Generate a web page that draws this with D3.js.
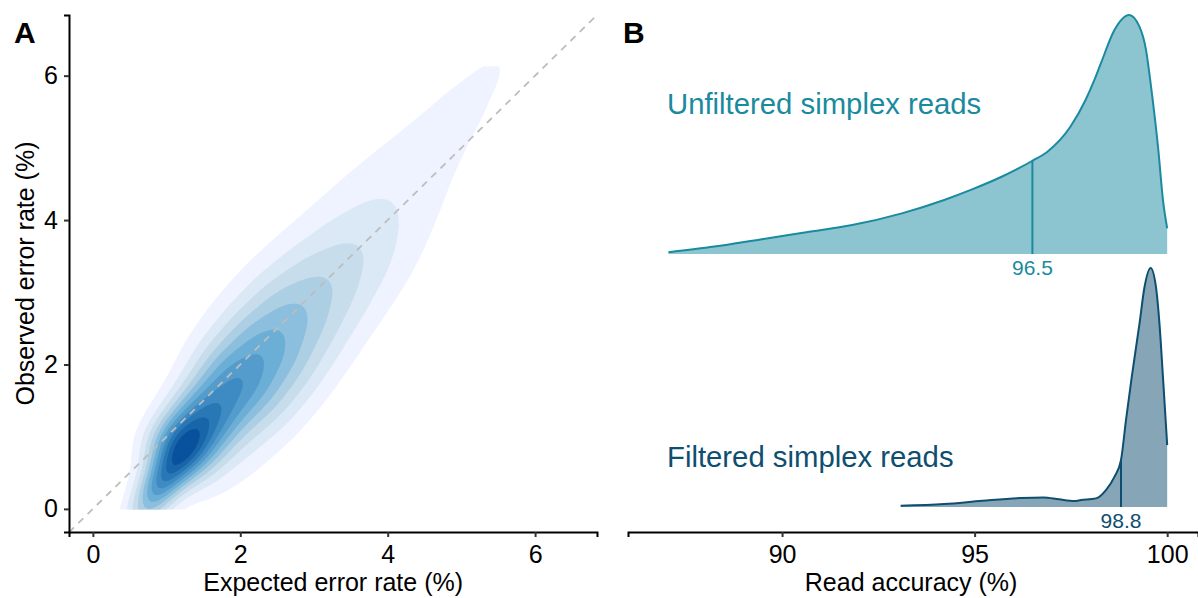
<!DOCTYPE html>
<html>
<head>
<meta charset="utf-8">
<script src="https://cdn.jsdelivr.net/npm/d3@7"></script>
<style>
  body { margin: 0; background: #fff; }
  text { font-family: "Liberation Sans", Arial, Helvetica, sans-serif; }
</style>
</head>
<body>
<div id="chart"></div>
<script>

///////////////////////////////////////////////////////////////////////////
//////////////////////////////// Data /////////////////////////////////////
///////////////////////////////////////////////////////////////////////////

//Panel A - density kernels
//(centre expected %, centre observed %, peak height, sd along ridge, sd across ridge)
//first along the ridge of the cloud, the last ones on its lower right shoulder
var kernelExpected = [0.700, 0.930, 1.220, 1.589, 1.959, 2.328, 2.698, 3.106, 3.516, 3.885, 4.255, 4.624, 4.993, 5.363, 5.732,
	1.732, 2.225, 2.717, 3.210, 3.702, 4.195];
var kernelObserved = [-0.100, 0.370, 0.860, 1.333, 1.806, 2.279, 2.751, 3.193, 3.635, 4.108, 4.581, 5.054, 5.527, 5.999, 6.472,
	0.460, 1.090, 1.721, 2.351, 2.982, 3.612];
var kernelHeight = [0.197, 0.48, 0.77, 0.518, 0.455, 0.368, 0.294, 0.223, 0.170, 0.124, 0.094, 0.078, 0.070, 0.062, 0.055,
	0.05, 0.075, 0.075, 0.05, 0.025, 0.015];
var kernelSdAlong = [0.35, 0.35, 0.35, 0.35, 0.35, 0.35, 0.35, 0.35, 0.35, 0.35, 0.35, 0.35, 0.35, 0.35, 0.35,
	0.6, 0.6, 0.6, 0.6, 0.6, 0.6];
var kernelSdAcross = [0.18, 0.19, 0.31, 0.36, 0.44, 0.48, 0.50, 0.52, 0.54, 0.56, 0.58, 0.56, 0.53, 0.49, 0.44,
	0.38, 0.38, 0.38, 0.38, 0.38, 0.38];
//Range covered by the reads
var readsExpectedRange = [0.38, 5.55];
var readsObservedRange = [0, 6.12];
var axisTicksA = [0, 2, 4, 6];

//Panel B - read accuracy densities (relative height)
var unfilteredAccuracy = [87.05, 88.24, 89.44, 90.63, 91.82, 93.11, 94.21, 94.90, 95.70, 96.49,
	96.89, 97.49, 97.88, 98.11, 98.28, 98.63, 99.01, 99.28, 99.45, 99.57, 99.77, 99.89, 100];
var unfilteredDensity = [0.007, 0.031, 0.061, 0.091, 0.121, 0.170, 0.226, 0.268, 0.323, 0.389,
	0.428, 0.533, 0.644, 0.728, 0.798, 0.937, 1.0, 0.951, 0.854, 0.714, 0.435, 0.226, 0.107];
var filteredAccuracy = [93.08, 94.21, 95.20, 96.19, 96.79, 97.19, 97.59, 97.76, 98.15, 98.41,
	98.63, 98.80, 98.93, 99.08, 99.28, 99.41, 99.57, 99.71, 99.80, 99.89, 100];
var filteredDensity = [0.005, 0.0125, 0.026, 0.0375, 0.040, 0.032, 0.025, 0.029, 0.036, 0.071,
	0.126, 0.196, 0.363, 0.544, 0.766, 0.919, 1.0, 0.919, 0.766, 0.544, 0.259];
var groups = ["Filtered simplex reads", "Unfiltered simplex reads"];
var medians = [98.8, 96.5];
var axisTicksB = [90, 95, 100];

///////////////////////////////////////////////////////////////////////////
//////////////////////////// Set up the SVG ///////////////////////////////
///////////////////////////////////////////////////////////////////////////

var width = 1198,
	height = 598;

var svg = d3.select("#chart").append("svg")
	.attr("width", width)
	.attr("height", height)
	.style("display", "block");

var axisY = 532;

///////////////////////////////////////////////////////////////////////////
//////////////////////////////// Panel A //////////////////////////////////
///////////////////////////////////////////////////////////////////////////

var xA = d3.scaleLinear().domain([-0.324, 6.84]).range([69, 597]);
var yA = d3.scaleLinear().domain([-0.32, 6.84]).range([axisY, 15]);

//Evaluate the kernels on a grid over the range of the reads
var step = 0.02,
	nx = Math.round((readsExpectedRange[1] - readsExpectedRange[0]) / step) + 1,
	ny = Math.round((readsObservedRange[1] - readsObservedRange[0]) / step) + 1;

var ux = 0.6157, uy = 0.7881; //direction of the ridge
var values = new Float64Array(nx * ny);
for (var j = 0; j < ny; j++) {
	var gy = readsObservedRange[0] + j * step;
	for (var i = 0; i < nx; i++) {
		var gx = readsExpectedRange[0] + i * step;
		var v = 0;
		for (var k = 0; k < kernelExpected.length; k++) {
			var dx = gx - kernelExpected[k],
				dy = gy - kernelObserved[k];
			var a = dx * ux + dy * uy,
				c = -dx * uy + dy * ux;
			v += kernelHeight[k] * Math.exp(-0.5 * (a * a / (kernelSdAlong[k] * kernelSdAlong[k]) + c * c / (kernelSdAcross[k] * kernelSdAcross[k])));
		}//for k
		values[j * nx + i] = v;
	}//for i
}//for j

var maxDensity = d3.max(values);
var nBins = 12;
var thresholds = d3.range(1, nBins).map(function(i) { return maxDensity * i / nBins; });

var blues = d3.scaleLinear()
	.domain(d3.range(5).map(function(i) { return i / 4; }))
	.range(["#EFF3FF", "#BDD7E7", "#6BAED6", "#3182BD", "#08519C"])
	.interpolate(d3.interpolateRgb);

var contours = d3.contours().size([nx, ny]).thresholds(thresholds)(values);

var gridPath = d3.geoPath(d3.geoTransform({
	point: function(px, py) {
		this.stream.point(
			xA(readsExpectedRange[0] + (px - 0.5) * step),
			yA(readsObservedRange[0] + (py - 0.5) * step)
		);
	}
}));

var panelA = svg.append("g").attr("class", "panel-a");

panelA.append("g").attr("class", "density")
	.selectAll("path")
	.data(contours)
	.enter().append("path")
	.attr("d", gridPath)
	.style("fill", function(d, i) { return blues(i / (contours.length - 1)); })
	.style("stroke", "none");

//Identity line
panelA.append("line")
	.attr("x1", xA(-0.324)).attr("y1", yA(-0.324))
	.attr("x2", xA(6.84)).attr("y2", yA(6.84))
	.style("stroke", "#bdbdbd")
	.style("stroke-width", 1.8)
	.style("stroke-dasharray", "7,6");

//Axes
panelA.append("g")
	.attr("transform", "translate(0," + axisY + ")")
	.call(d3.axisBottom(xA).tickValues(axisTicksA).tickSize(5).tickPadding(8));

panelA.append("g")
	.attr("transform", "translate(69,0)")
	.call(d3.axisLeft(yA).tickValues(axisTicksA).tickSize(5).tickPadding(6));

panelA.append("text")
	.attr("x", xA(3.26)).attr("y", 591)
	.attr("text-anchor", "middle")
	.style("font-size", "25px")
	.text("Expected error rate (%)");

panelA.append("text")
	.attr("transform", "translate(34," + yA(3.26) + ") rotate(-90)")
	.attr("text-anchor", "middle")
	.style("font-size", "25px")
	.text("Observed error rate (%)");

svg.append("text")
	.attr("x", 14).attr("y", 43)
	.style("font-size", "30px")
	.style("font-weight", "bold")
	.text("A");

///////////////////////////////////////////////////////////////////////////
//////////////////////////////// Panel B //////////////////////////////////
///////////////////////////////////////////////////////////////////////////

var xB = d3.scaleLinear().domain([86, 100.8]).range([628, 1198]);
//Ridge baselines - group 1 at the bottom, group 2 above
var yB = d3.scaleLinear().domain([1, 2]).range([507, 254]);
var ridgeScale = 0.945;

var colors = ["#0e4e70", "#1a8a9f"];

var ridges = [
	{ name: groups[0], acc: filteredAccuracy, dens: filteredDensity, median: medians[0], color: colors[0], pos: 1 },
	{ name: groups[1], acc: unfilteredAccuracy, dens: unfilteredDensity, median: medians[1], color: colors[1], pos: 2 }
];

var panelB = svg.append("g").attr("class", "panel-b");

var area = d3.area()
	.curve(d3.curveMonotoneX)
	.x(function(d) { return xB(d[0]); })
	.y0(function(d) { return yB(d[2]); })
	.y1(function(d) { return yB(d[2] + d[1] * ridgeScale); });

var ridgeWrapper = panelB.selectAll(".ridge")
	.data(ridges)
	.enter().append("g")
	.attr("class", "ridge");

ridgeWrapper.each(function(r) {
	var g = d3.select(this);
	var pts = r.acc.map(function(a, i) { return [a, r.dens[i], r.pos]; });

	g.append("path")
		.datum(pts)
		.attr("d", area)
		.style("fill", r.color)
		.style("fill-opacity", 0.5);

	g.append("path")
		.datum(pts)
		.attr("d", area.lineY1())
		.style("fill", "none")
		.style("stroke", r.color)
		.style("stroke-width", 2);

	//Median line up to the curve
	var hMed = d3.scaleLinear().domain(r.acc).range(r.dens)(r.median);
	g.append("line")
		.attr("x1", xB(r.median)).attr("x2", xB(r.median))
		.attr("y1", yB(r.pos)).attr("y2", yB(r.pos + hMed * ridgeScale))
		.style("stroke", r.color)
		.style("stroke-width", 2);

	g.append("text")
		.attr("x", xB(r.median)).attr("y", yB(r.pos) + 21)
		.attr("text-anchor", "middle")
		.style("font-size", "21px")
		.style("fill", r.color)
		.text(r.median.toFixed(1));

	g.append("text")
		.attr("x", 667).attr("y", r.pos === 2 ? 114 : 467)
		.style("font-size", "29.3px")
		.style("fill", r.color)
		.text(r.name);
});

panelB.append("g")
	.attr("transform", "translate(0," + axisY + ")")
	.call(d3.axisBottom(xB).tickValues(axisTicksB).tickSize(5).tickPadding(8));

panelB.append("text")
	.attr("x", xB(93.35)).attr("y", 591)
	.attr("text-anchor", "middle")
	.style("font-size", "25px")
	.text("Read accuracy (%)");

svg.append("text")
	.attr("x", 623).attr("y", 43)
	.style("font-size", "30px")
	.style("font-weight", "bold")
	.text("B");

//Axis styling
svg.selectAll(".domain")
	.style("stroke", "#000")
	.style("stroke-width", 2);
svg.selectAll(".tick line")
	.style("stroke", "#333")
	.style("stroke-width", 2);
svg.selectAll(".tick text")
	.style("font-size", "25px")
	.style("fill", "#000")
	.style("font-family", "'Liberation Sans', Arial, sans-serif");

</script>
</body>
</html>
